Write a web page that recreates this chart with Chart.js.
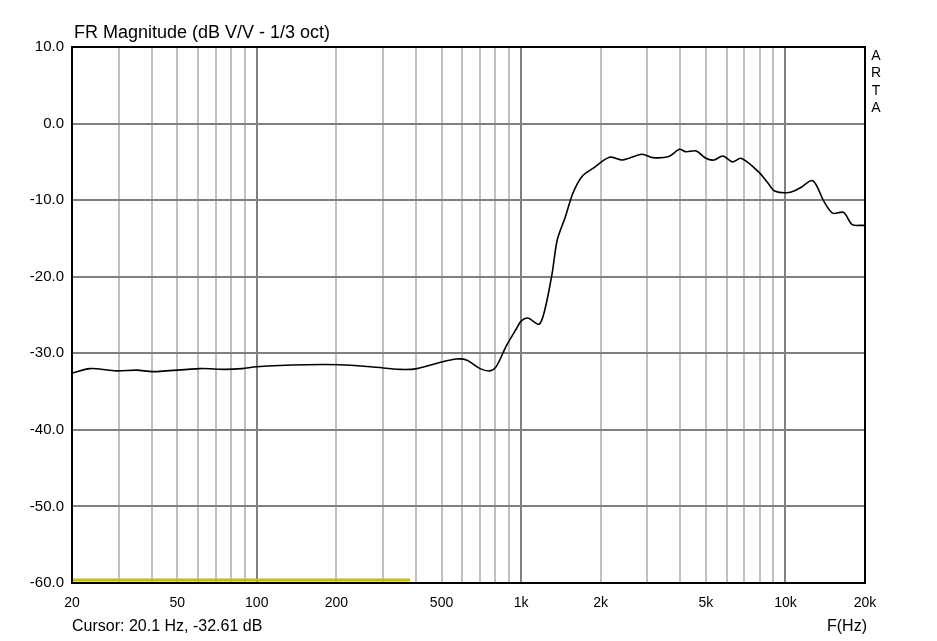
<!DOCTYPE html>
<html>
<head>
<meta charset="utf-8">
<script src="https://cdn.jsdelivr.net/npm/chart.js@4.4.1/dist/chart.umd.min.js"></script>
<style>
  body { margin: 0; background: #fff; }
  canvas { display: block; }
</style>
</head>
<body>
<canvas id="fr" width="937" height="641"></canvas>
<script>
// FR magnitude, 1/3 oct smoothing
const freqs = [20, 23.4, 29.5, 35.2, 40.5, 61, 76, 88, 100, 154, 206, 276, 348, 404, 492, 570, 624, 700, 762, 805,
  880, 960, 1000, 1060, 1170, 1230, 1310, 1370, 1470, 1570, 1700, 1870, 2160, 2420, 2870, 3150, 3620, 3970, 4200,
  4600, 5000, 5370, 5800, 6300, 6800, 7900, 8600, 9100, 10300, 11300, 12700, 14000, 15100, 16600, 17900, 19700, 20000];
const levels = [-32.6, -32.0, -32.3, -32.2, -32.4, -32.0, -32.1, -32.0, -31.75, -31.5, -31.5, -31.8, -32.1, -32.0, -31.2, -30.75, -30.9, -32.0, -32.3, -31.75,
  -29.0, -26.8, -25.8, -25.4, -26.2, -24.3, -19.6, -15.2, -12.2, -9.1, -6.9, -5.85, -4.4, -4.76, -4.0, -4.45, -4.3, -3.36, -3.67,
  -3.58, -4.54, -4.76, -4.24, -5.0, -4.54, -6.28, -7.8, -8.8, -9.0, -8.45, -7.46, -10.2, -11.7, -11.6, -13.2, -13.3, -13.4];

// yellow band at the bottom
const bandFreqs = [20, 380];
const bandLevels = [-59.6, -59.6];

const gridFreqs = [20, 30, 40, 50, 60, 70, 80, 90, 100, 200, 300, 400, 500, 600, 700, 800, 900,
  1000, 2000, 3000, 4000, 5000, 6000, 7000, 8000, 9000, 10000, 20000];
const majorFreqs = [100, 1000, 10000];
const freqLabels = { 20: '20', 50: '50', 100: '100', 200: '200', 500: '500', 1000: '1k', 2000: '2k', 5000: '5k', 10000: '10k', 20000: '20k' };
const dbTicks = [10, 0, -10, -20, -30, -40, -50, -60];

const FONT = '"Liberation Sans", Arial, sans-serif';

const frame = {
  id: 'frame',
  afterDraw(chart) {
    const { ctx, chartArea: a } = chart;
    ctx.save();
    ctx.strokeStyle = '#000';
    ctx.lineWidth = 2;
    ctx.strokeRect(a.left, a.top, a.right - a.left, a.bottom - a.top);

    ctx.fillStyle = '#000';
    ctx.textBaseline = 'middle';
    ctx.textAlign = 'left';
    ctx.font = '18px ' + FONT;
    ctx.fillText('FR Magnitude (dB V/V - 1/3 oct)', a.left + 2, 33);
    ctx.font = '16px ' + FONT;
    ctx.fillText('Cursor: 20.1 Hz, -32.61 dB', a.left, 627);
    ctx.textAlign = 'right';
    ctx.fillText('F(Hz)', a.right + 2, 627);

    ctx.textAlign = 'center';
    ctx.font = '14px ' + FONT;
    ['A', 'R', 'T', 'A'].forEach((ch, i) => ctx.fillText(ch, a.right + 11, 56 + i * 17.5));
    ctx.restore();
  }
};

new Chart(document.getElementById('fr'), {
  type: 'line',
  data: {
    datasets: [
      {
        data: bandFreqs.map((f, i) => ({ x: f, y: bandLevels[i] })),
        borderColor: '#c4c000',
        borderWidth: 3,
        pointRadius: 0,
        tension: 0
      },
      {
        data: freqs.map((f, i) => ({ x: f, y: levels[i] })),
        borderColor: '#000',
        borderWidth: 1.6,
        pointRadius: 0,
        tension: 0.3
      }
    ]
  },
  options: {
    responsive: false,
    animation: false,
    layout: { padding: { top: 47, right: 72, left: 0, bottom: 0 } },
    plugins: { legend: { display: false }, tooltip: { enabled: false } },
    scales: {
      x: {
        type: 'logarithmic',
        min: 20,
        max: 20000,
        afterBuildTicks: s => { s.ticks = gridFreqs.map(v => ({ value: v })); },
        afterFit: s => { s.height = 58; },
        border: { display: false },
        grid: {
          drawTicks: false,
          lineWidth: 2,
          color: c => majorFreqs.includes(c.tick && c.tick.value) ? '#808080' : '#c0c0c0'
        },
        ticks: {
          autoSkip: false,
          maxRotation: 0,
          padding: 12,
          color: '#000',
          font: { family: FONT, size: 14 },
          callback: v => freqLabels[v] || ''
        }
      },
      y: {
        min: -60,
        max: 10,
        afterBuildTicks: s => { s.ticks = dbTicks.map(v => ({ value: v })); },
        afterFit: s => { s.width = 72; },
        border: { display: false },
        grid: { drawTicks: false, lineWidth: 2, color: '#808080' },
        ticks: {
          padding: 8,
          color: '#000',
          font: { family: FONT, size: 15 },
          callback: v => v.toFixed(1)
        }
      }
    }
  },
  plugins: [frame]
});
</script>
</body>
</html>
